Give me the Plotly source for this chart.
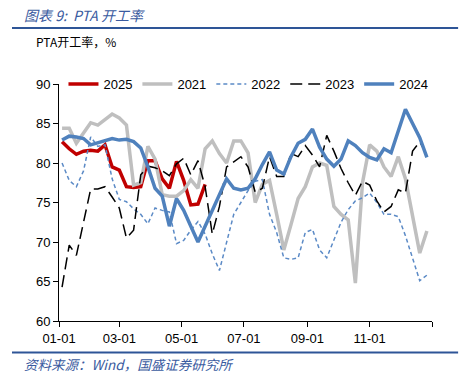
import plotly.graph_objects as go
import pandas as pd

# Weekly observation dates (plotted on a common calendar year)
weeks = pd.date_range("2001-01-04", periods=52, freq="7D")

y2025 = [82.7, 81.8, 81.1, 81.5, 81.6, 81.5, 82.3, 79.5, 79.1, 77.0, 76.9, 77.0,
         80.3, 80.3, 78.0, 76.8, 80.2, 77.8, 74.7, 74.8, 77.3]

y2021 = [84.4, 84.4, 82.5, 83.8, 85.1, 84.8, 85.5, 86.2, 85.7, 84.8, 77.2, 77.5,
         82.1, 80.5, 76.0, 75.8, 75.8, 76.5, 77.9, 76.8, 81.8, 82.8, 81.2, 80.0,
         82.8, 82.8, 81.3, 75.0, 77.3, 77.8, 73.5, 69.0, 72.2, 75.5, 77.0, 79.5,
         80.0, 79.7, 74.5, 73.5, 72.8, 64.8, 77.5, 82.3, 81.5, 79.5, 78.3, 80.8,
         78.0, 73.0, 68.6, 71.4]

y2022 = [80.0, 77.8, 77.0, 79.0, 83.3, 82.1, 82.3, 78.0, 75.4, 75.1, 74.2, 73.5,
         72.3, 74.3, 74.0, 73.8, 69.8, 70.2, 71.5, 72.6, 71.0, 68.5, 66.4, 70.0,
         73.5, 75.0, 76.5, 77.7, 77.9, 73.5, 71.2, 68.0, 67.8, 68.0, 71.2, 71.6,
         69.0, 68.0, 70.2, 72.5, 74.1, 75.2, 75.6, 76.2, 75.0, 73.5, 73.5, 73.2,
         70.8, 68.0, 65.1, 65.8]

y2023 = [64.3, 69.6, 68.3, 72.5, 76.7, 76.7, 77.0, 75.7, 74.3, 70.5, 71.5, 78.5,
         79.6, 79.4, 79.0, 78.4, 79.9, 80.6, 78.5, 80.3, 77.0, 71.0, 74.5, 79.5,
         80.2, 80.8, 79.5, 76.3, 76.8, 80.8, 78.3, 78.3, 81.2, 80.8, 82.2, 81.0,
         79.5, 83.5, 81.5, 79.3, 77.5, 75.9, 77.7, 77.2, 75.2, 73.8, 74.5, 76.6,
         76.2, 81.5, 82.7, 81.0]

y2024 = [82.9, 83.4, 83.3, 83.1, 82.3, 82.6, 82.8, 83.1, 82.9, 83.0, 82.7, 81.9,
         79.5, 76.8, 75.8, 72.0, 75.5, 74.0, 72.0, 70.0, 72.0, 74.0, 76.0, 78.0,
         76.8, 76.6, 76.8, 78.0, 79.8, 81.4, 79.1, 78.6, 80.8, 82.5, 83.0, 84.3,
         82.0, 80.5, 79.6, 80.5, 82.8, 82.2, 81.3, 80.7, 80.4, 81.8, 81.3, 84.0,
         86.8, 85.0, 83.2, 80.7]

tick_vals = ["2001-01-01", "2001-03-01", "2001-05-01", "2001-07-01",
             "2001-09-01", "2001-11-01", "2002-01-01"]
tick_text = ["01-01", "03-01", "05-01", "07-01", "09-01", "11-01", ""]

series = [
    ("2025", y2025, dict(color="#C00000", width=3.5)),
    ("2021", y2021, dict(color="#BFBFBF", width=3.5)),
    ("2022", y2022, dict(color="#5B8AC6", width=1.5, dash="4px,3px")),
    ("2023", y2023, dict(color="#000000", width=1.5, dash="12px,6px")),
    ("2024", y2024, dict(color="#4F81BD", width=3.5)),
]

fig = go.Figure()
for name, vals, line in series:
    fig.add_trace(go.Scatter(x=weeks[:len(vals)], y=vals, mode="lines",
                             name=name, line=line))

font_main = "Liberation Sans, Arial, Noto Sans CJK SC, sans-serif"
font_cjk = "Noto Sans CJK SC, Liberation Sans, sans-serif"

# page body has an 8px default margin, so the figure is 466x372
fig.update_layout(
    width=466, height=372,
    margin=dict(l=51, r=42, t=76, b=58.5),
    paper_bgcolor="white", plot_bgcolor="white",
    font=dict(family=font_main, size=13, color="#000000"),
    showlegend=True,
    legend=dict(orientation="h", x=0.012, y=1.0, xanchor="left", yanchor="middle",
                font=dict(size=13), bgcolor="rgba(0,0,0,0)",
                itemwidth=30, tracegroupgap=0),
    xaxis=dict(range=["2001-01-01", "2002-01-01"], tickvals=tick_vals,
               ticktext=tick_text, showgrid=False, zeroline=False,
               showline=True, linecolor="#000000", linewidth=1,
               ticks="outside", ticklen=5, tickcolor="#000000",
               tickfont=dict(size=13)),
    yaxis=dict(range=[60, 90], dtick=5, showgrid=False, zeroline=False,
               showline=True, linecolor="#000000", linewidth=1,
               ticks="outside", ticklen=5, tickcolor="#000000",
               tickfont=dict(size=13)),
    annotations=[
        dict(text="<i>图表 9:  PTA 开工率</i>", xref="paper", yref="paper",
             x=-0.099, y=1.29, xanchor="left", yanchor="middle", showarrow=False,
             width=150, height=22, align="left",
             font=dict(family=font_cjk, size=14, color="#3A5BA0")),
        dict(text="PTA开工率，%", xref="paper", yref="paper",
             x=-0.067, y=1.18, xanchor="left", yanchor="middle", showarrow=False,
             width=110, align="left",
             font=dict(family=font_cjk, size=12, color="#000000")),
        dict(text="<i>资料来源：Wind，国盛证券研究所</i>", xref="paper", yref="paper",
             x=-0.099, y=-0.183, xanchor="left", yanchor="middle", showarrow=False,
             width=240, height=22, align="left",
             font=dict(family=font_cjk, size=13.5, color="#3A5BA0")),
    ],
    shapes=[
        dict(type="line", xref="paper", yref="paper", x0=-0.126, x1=1.07,
             y0=1.236, y1=1.236, line=dict(color="#2E5597", width=2)),
        dict(type="line", xref="paper", yref="paper", x0=-0.126, x1=1.07,
             y0=-0.133, y1=-0.133, line=dict(color="#2E5597", width=2)),
    ],
)

fig.write_html("out.html")
